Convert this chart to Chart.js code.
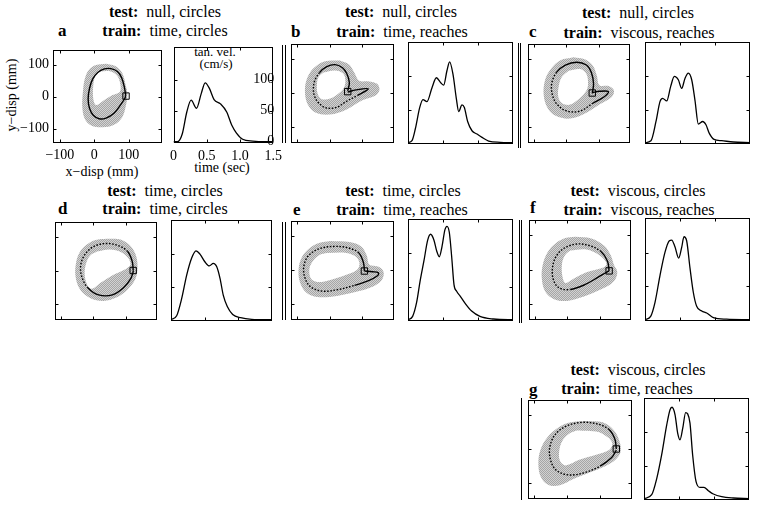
<!DOCTYPE html>
<html>
<head>
<meta charset="utf-8">
<script src="https://cdn.jsdelivr.net/npm/chart.js@4.4.1/dist/chart.umd.min.js"></script>
<style>
  html, body { margin: 0; padding: 0; background: #fff; overflow: hidden; }
  body { position: relative; width: 758px; height: 507px; font-family: "Liberation Serif", "DejaVu Serif", serif; color: #000; }
  canvas { position: absolute; }
  .ttl { position: absolute; width: 300px; text-align: center; font-size: 16px; line-height: 18px; white-space: pre; }
  .tag { position: absolute; font-size: 17px; font-weight: bold; line-height: 18px; }
  .lab { position: absolute; font-size: 14px; line-height: 16px; white-space: nowrap; text-align: center; }
  .sep { position: absolute; width: 1px; background: #000; }
</style>
</head>
<body>

<!-- panel titles -->
<div class="ttl" style="left:15px;top:3px"><b>test:</b>  null, circles</div>
<div class="ttl" style="left:15px;top:22px"><b>train:</b>  time, circles</div>
<div class="ttl" style="left:251px;top:3px"><b>test:</b>  null, circles</div>
<div class="ttl" style="left:252px;top:23px"><b>train:</b>  time, reaches</div>
<div class="ttl" style="left:488px;top:4px"><b>test:</b>  null, circles</div>
<div class="ttl" style="left:489px;top:24px"><b>train:</b>  viscous, reaches</div>
<div class="ttl" style="left:15px;top:182px"><b>test:</b>  time, circles</div>
<div class="ttl" style="left:15px;top:200px"><b>train:</b>  time, circles</div>
<div class="ttl" style="left:253px;top:182px"><b>test:</b>  time, circles</div>
<div class="ttl" style="left:252px;top:201px"><b>train:</b>  time, reaches</div>
<div class="ttl" style="left:488px;top:182px"><b>test:</b>  viscous, circles</div>
<div class="ttl" style="left:489px;top:201px"><b>train:</b>  viscous, reaches</div>
<div class="ttl" style="left:488px;top:361px"><b>test:</b>  viscous, circles</div>
<div class="ttl" style="left:477px;top:380px"><b>train:</b>  time, reaches</div>

<div class="tag" style="left:58px;top:22px">a</div>
<div class="tag" style="left:291px;top:23px">b</div>
<div class="tag" style="left:529px;top:23px">c</div>
<div class="tag" style="left:58px;top:200px">d</div>
<div class="tag" style="left:293px;top:201px">e</div>
<div class="tag" style="left:530px;top:199px">f</div>
<div class="tag" style="left:529px;top:381px">g</div>

<!-- axis titles of panel a -->
<div class="lab" style="left:-33px;top:87px;width:90px;transform:rotate(-90deg)">y−disp (mm)</div>
<div class="lab" style="left:52px;top:164px;width:100px">x−disp (mm)</div>
<div class="lab" style="left:172px;top:160px;width:100px">time (sec)</div>
<div class="lab" style="left:175px;top:45px;width:80px;font-size:13px;line-height:13px">tan. vel.</div>
<div class="lab" style="left:176px;top:57px;width:80px;font-size:13px;line-height:13px">(cm/s)</div>

<!-- separators -->
<div class="sep" style="left:282px;top:45px;height:98px"></div>
<div class="sep" style="left:285px;top:45px;height:98px"></div>
<div class="sep" style="left:518px;top:43px;height:105px"></div>
<div class="sep" style="left:520px;top:43px;height:105px"></div>
<div class="sep" style="left:282px;top:222px;height:98px"></div>
<div class="sep" style="left:285px;top:222px;height:98px"></div>
<div class="sep" style="left:519px;top:220px;height:103px"></div>
<div class="sep" style="left:521px;top:220px;height:103px"></div>
<div class="sep" style="left:521px;top:398px;height:102px"></div>

<script>
/* =========================
   AXES (mm, sec, cm/s)
========================= */

const dispRange = [-120, 195];
const dispYRange = [-145, 145];
const dispTicks = [-100, 0, 100];
const timeRange = [0, 1.5];
const speedRange = [-2, 152];
const timeTicks = [0, 0.5, 1.0, 1.5];
const timeLabels = ["0", "0.5", "1.0", "1.5"];
const speedTicks = [0, 50, 100];

/* =========================
   PANEL a
========================= */

const pathA = [[91,5],[87,31],[79,60],[67,79],[48,88],[29,87],[10,76],[-5,55],[-14,26],[-18,-7],[-14,-36],[-3,-58],[14,-69],[34,-67],[57,-52],[77,-24],[89,-4],[91,5]];
const outerA = [[34,103],[62,95],[81,74],[91,36],[96,7],[91,-31],[81,-64],[57,-88],[24,-96],[-9,-90],[-28,-69],[-35,-31],[-33,17],[-28,55],[-16,84],[5,99],[34,103]];
const innerA = [[14,79],[48,79],[67,65],[76,36],[74,15],[53,5],[24,-14],[5,-26],[-3,-7],[-3,36],[3,65],[14,79]];
const startA = [[92,2]];
const timeA = [0,0.06,0.13,0.2,0.265,0.346,0.418,0.476,0.54,0.61,0.707,0.8,0.875,0.947,1.04,1.19,1.38,1.5];
const speedA = [0,0,12,48,67,54,78,95,86,68,61,48,27,14,4,1,0,0];

/* =========================
   PANEL b
========================= */

const pathB = [[55,6],[60,31],[52,57],[39,74],[16,83],[-9,77],[-31,60],[-46,36],[-50,12],[-46,-11],[-31,-32],[-9,-44],[21,-42],[50,-25],[85,-7],[118,12],[80,9],[55,3]];
const outerB = [[31,95],[60,83],[75,60],[90,36],[120,34],[145,27],[152,9],[140,-7],[100,-21],[50,-49],[1,-63],[-44,-57],[-68,-32],[-76,8],[-68,46],[-48,74],[-14,93],[31,95]];
const innerB = [[-19,60],[16,66],[41,57],[48,36],[43,15],[26,-2],[1,-16],[-24,-18],[-37,-2],[-39,27],[-34,47],[-19,60]];
const startB = [[55,4]];
const timeB = [0,0.057,0.105,0.167,0.214,0.271,0.343,0.405,0.471,0.51,0.557,0.595,0.643,0.69,0.724,0.771,0.805,0.852,0.914,0.986,1.057,1.152,1.319,1.5];
const speedB = [0,3,21,53,65,62,83,98,90,87,109,122,103,67,47,57,53,32,18,13,8,2.5,0.5,0];

/* =========================
   PANEL c
========================= */

const pathC = [[80,-1],[84,27],[77,61],[62,82],[32,90],[-3,82],[-30,61],[-45,29],[-43,-6],[-28,-34],[2,-53],[42,-53],[82,-30],[117,-11],[130,4],[102,5],[80,1]];
const outerC = [[22,105],[57,99],[82,80],[94,51],[102,23],[132,20],[147,7],[140,-12],[102,-34],[62,-58],[12,-75],[-33,-67],[-58,-44],[-70,-6],[-66,37],[-48,70],[-18,96],[22,105]];
const innerC = [[7,65],[42,70],[62,56],[67,27],[62,7],[42,-15],[12,-34],[-13,-30],[-25,-11],[-23,23],[-13,48],[7,65]];
const startC = [[80,0]];
const timeC = [0,0.085,0.157,0.214,0.252,0.31,0.367,0.419,0.476,0.524,0.571,0.619,0.667,0.714,0.762,0.824,0.871,0.919,0.986,1.095,1.262,1.5];
const speedC = [0,3,32,62,67,63,85,100,95,82,97,105,95,64,28,32,27,14,5,3,1,0];

/* =========================
   PANEL d
========================= */

const pathD = [[123,1],[120,27],[106,56],[79,73],[41,80],[1,71],[-27,46],[-39,16],[-36,-18],[-17,-51],[16,-72],[59,-72],[93,-51],[116,-23],[123,-3],[123,1]];
const outerD = [[41,94],[86,91],[116,71],[133,40],[136,2],[129,-27],[106,-56],[71,-80],[31,-90],[-9,-82],[-41,-56],[-55,-18],[-53,25],[-39,59],[-14,81],[11,91],[41,94]];
const innerD = [[11,56],[51,62],[86,54],[109,35],[114,16],[99,4],[61,-13],[21,-37],[-4,-54],[-19,-42],[-27,-8],[-21,25],[-9,45],[11,56]];
const startD = [[123,0]];
const timeD = [0,0.084,0.158,0.233,0.307,0.371,0.43,0.505,0.569,0.629,0.678,0.728,0.777,0.836,0.916,1.034,1.198,1.5];
const speedD = [0,6,32,68,94,105,100,88,82,86,81,63,37,20,8,3,0.6,0];

/* =========================
   PANEL e
========================= */

const pathE = [[106,-3],[103,22],[89,50],[56,65],[12,69],[-33,62],[-66,41],[-79,12],[-77,-19],[-60,-48],[-23,-62],[27,-57],[76,-45],[119,-31],[146,-17],[149,-8],[131,-5],[106,-3]];
const outerE = [[2,85],[61,82],[96,69],[113,43],[121,16],[151,9],[165,-7],[158,-31],[131,-49],[81,-64],[22,-76],[-38,-79],[-72,-66],[-92,-33],[-95,5],[-85,38],[-63,63],[-33,79],[2,85]];
const innerE = [[-8,50],[51,50],[81,38],[91,19],[83,0],[51,-14],[2,-29],[-38,-35],[-58,-24],[-62,5],[-50,28],[-30,45],[-8,50]];
const startE = [[106,-3]];
const timeE = [0,0.066,0.123,0.171,0.228,0.281,0.323,0.371,0.409,0.447,0.485,0.528,0.557,0.59,0.624,0.657,0.695,0.743,0.814,0.909,1.028,1.219,1.433,1.5];
const speedE = [0,5,26,57,89,120,129,120,104,95,110,136,141,132,95,53,43,36,25,13,5,1,0,0];

/* =========================
   PANEL f
========================= */

const pathF = [[129,-4],[124,24],[104,52],[69,69],[29,74],[-11,61],[-36,36],[-46,3],[-43,-30],[-26,-53],[9,-58],[54,-44],[94,-23],[121,-8],[129,-4]];
const outerF = [[24,95],[74,90],[114,69],[134,41],[144,13],[154,-6],[149,-27],[129,-46],[89,-64],[49,-79],[-1,-91],[-41,-86],[-69,-63],[-79,-25],[-76,14],[-61,50],[-36,76],[-6,91],[24,95]];
const innerF = [[9,55],[59,58],[99,41],[121,17],[109,5],[59,-8],[19,-27],[-6,-39],[-16,-16],[-16,20],[-6,43],[9,55]];
const startF = [[129,-4]];
const timeF = [0,0.081,0.143,0.214,0.286,0.348,0.381,0.428,0.481,0.524,0.557,0.595,0.643,0.69,0.738,0.81,0.881,0.976,1.167,1.5];
const speedF = [0,5,26,66,101,118,119,109,92,108,124,118,77,41,20,13,10,3,0.7,0];

/* =========================
   PANEL g
========================= */

const pathG = [[149,0],[145,28],[127,57],[93,73],[44,78],[-5,66],[-38,40],[-53,2],[-49,-36],[-32,-63],[5,-76],[54,-69],[100,-50],[135,-25],[149,-3]];
const outerG = [[59,82],[108,78],[142,54],[159,21],[162,-8],[147,-31],[117,-50],[68,-69],[19,-88],[-25,-107],[-59,-104],[-81,-79],[-87,-36],[-79,2],[-59,35],[-30,61],[10,78],[59,82]];
const innerG = [[29,54],[88,51],[122,35],[137,16],[127,-3],[88,-17],[39,-31],[-5,-48],[-22,-34],[-24,-6],[-15,23],[5,44],[29,54]];
const startG = [[149,0]];
const timeG = [0,0.11,0.181,0.252,0.324,0.371,0.4,0.443,0.481,0.514,0.553,0.595,0.624,0.657,0.695,0.743,0.8,0.857,0.919,0.991,1.11,1.276,1.5];
const speedG = [0,6,30,66,111,134,138,127,99,89,106,130,128,114,66,26,17,17,12,7,3,1,0];

/* =========================
   LAYOUT (page px: left, top, width, height)
========================= */

const panels = [
  { traj: [53, 42, 110, 101], vel: [171, 42, 104, 101], path: pathA, outer: outerA, inner: innerA, start: startA, time: timeA, speed: speedA, dots: null, labelled: true },
  { traj: [289, 42, 106, 102], vel: [408, 42, 105, 102], path: pathB, outer: outerB, inner: innerB, start: startB, time: timeB, speed: speedB, dots: [6, 14] },
  { traj: [526, 42, 105, 102], vel: [645, 42, 105, 102], path: pathC, outer: outerC, inner: innerC, start: startC, time: timeC, speed: speedC, dots: [6, 12] },
  { traj: [53, 220, 105, 101], vel: [171, 220, 101, 101], path: pathD, outer: outerD, inner: innerD, start: startD, time: timeD, speed: speedD, dots: [2, 9] },
  { traj: [289, 219, 106, 102], vel: [408, 219, 105, 102], path: pathE, outer: outerE, inner: innerE, start: startE, time: timeE, speed: speedE, dots: [2, 12] },
  { traj: [527, 218, 105, 103], vel: [645, 218, 105, 103], path: pathF, outer: outerF, inner: innerF, start: startF, time: timeF, speed: speedF, dots: [2, 10] },
  { traj: [526, 398, 107, 102], vel: [644, 398, 105, 102], path: pathG, outer: outerG, inner: innerG, start: startG, time: timeG, speed: speedG, dots: [2, 12] }
];

Chart.defaults.font.family = "'Liberation Serif', 'DejaVu Serif', serif";
Chart.defaults.color = "#000";

const pts = list => list.map(p => ({ x: p[0], y: p[1] }));

function makeCanvas(box, pad) {
  const c = document.createElement("canvas");
  const w = box[2] + pad.left + pad.right;
  const h = box[3] + pad.top + pad.bottom;
  c.width = w;
  c.height = h;
  c.style.width = w + "px";
  c.style.height = h + "px";
  c.style.left = (box[0] - pad.left) + "px";
  c.style.top = (box[1] - pad.top) + "px";
  document.body.appendChild(c);
  return c;
}

// box frame with inward tick marks on all four sides
function framePlugin(xTicks, yTicks) {
  return {
    id: "frame",
    afterDraw(chart) {
      const { ctx, chartArea: a } = chart;
      const xs = chart.scales.x;
      const ys = chart.scales.y;
      const l = Math.round(a.left) + 0.5;
      const r = Math.round(a.right) - 0.5;
      const t = Math.round(a.top) + 0.5;
      const b = Math.round(a.bottom) - 0.5;
      ctx.save();
      ctx.strokeStyle = "#000";
      ctx.lineWidth = 1;
      ctx.strokeRect(l, t, r - l, b - t);
      ctx.beginPath();
      xTicks.forEach(v => {
        const p = Math.round(xs.getPixelForValue(v)) + 0.5;
        if (p <= l + 1 || p >= r - 1) return;
        ctx.moveTo(p, b); ctx.lineTo(p, b - 3);
        ctx.moveTo(p, t); ctx.lineTo(p, t + 3);
      });
      yTicks.forEach(v => {
        const p = Math.round(ys.getPixelForValue(v)) + 0.5;
        if (p <= t + 1 || p >= b - 1) return;
        ctx.moveTo(l, p); ctx.lineTo(l + 3, p);
        ctx.moveTo(r, p); ctx.lineTo(r - 3, p);
      });
      ctx.stroke();
      ctx.restore();
    }
  };
}

function stipple(ctx) {
  const tile = document.createElement("canvas");
  tile.width = 2;
  tile.height = 2;
  const g = tile.getContext("2d");
  g.fillStyle = "#d2d2d2";
  g.fillRect(0, 0, 2, 2);
  g.fillStyle = "#a6a6a6";
  g.fillRect(0, 0, 1, 1);
  g.fillRect(1, 1, 1, 1);
  return ctx.createPattern(tile, "repeat");
}

const baseOptions = padding => ({
  responsive: false,
  animation: false,
  devicePixelRatio: 1,
  events: [],
  layout: { padding },
  plugins: { legend: { display: false }, tooltip: { enabled: false } }
});

const tickFont = { family: "'Liberation Serif', 'DejaVu Serif', serif", size: 14 };

/* =========================
   TRAJECTORY CHART
========================= */

function trajChart(p) {
  const lab = !!p.labelled;
  const pad = lab
    ? { left: 46, top: 4, right: 4, bottom: 24 }
    : { left: 4, top: 4, right: 4, bottom: 4 };
  const canvas = makeCanvas(p.traj, pad);
  const ctx = canvas.getContext("2d");
  const dots = p.dots;

  new Chart(ctx, {
    type: "line",
    data: {
      datasets: [
        { data: pts(p.outer), fill: "shape", backgroundColor: stipple(ctx), borderWidth: 0, borderColor: "rgba(0,0,0,0)", pointRadius: 0, tension: 0.35, order: 3 },
        { data: pts(p.inner), fill: "shape", backgroundColor: "#fff", borderWidth: 0, borderColor: "rgba(0,0,0,0)", pointRadius: 0, tension: 0.35, order: 2 },
        {
          data: pts(p.path), fill: false, borderColor: "#000", borderWidth: 1.4, pointRadius: 0, tension: 0.35, order: 1,
          segment: {
            borderDash: c => (dots && c.p0DataIndex >= dots[0] && c.p0DataIndex < dots[1]) ? [1.6, 1.6] : undefined
          }
        },
        { data: pts(p.start), showLine: false, pointStyle: "rect", pointRadius: 4.5, pointBorderColor: "#000", pointBackgroundColor: "rgba(0,0,0,0)", pointBorderWidth: 1, order: 0 }
      ]
    },
    options: Object.assign(baseOptions(lab ? { left: 0, top: 4, right: 4, bottom: 0 } : pad), {
      scales: {
        x: {
          type: "linear", min: dispRange[0], max: dispRange[1],
          display: lab,
          grid: { display: false, drawTicks: false }, border: { display: false },
          afterBuildTicks: s => { s.ticks = dispTicks.map(v => ({ value: v })); },
          afterFit: s => { if (lab) s.height = 24; },
          ticks: { font: tickFont, padding: 4, maxRotation: 0, callback: v => String(v).replace("-", "−") }
        },
        y: {
          type: "linear", min: dispYRange[0], max: dispYRange[1],
          display: lab,
          grid: { display: false, drawTicks: false }, border: { display: false },
          afterBuildTicks: s => { s.ticks = dispTicks.map(v => ({ value: v })); },
          afterFit: s => { if (lab) s.width = 46; },
          ticks: { font: tickFont, padding: 4, callback: v => String(v).replace("-", "−") }
        }
      }
    }),
    plugins: [framePlugin(dispTicks, dispTicks)]
  });
}

/* =========================
   VELOCITY CHART
========================= */

function velChart(p) {
  const lab = !!p.labelled;
  const pad = lab
    ? { left: 6, top: 4, right: 12, bottom: 24 }
    : { left: 4, top: 4, right: 4, bottom: 4 };
  const canvas = makeCanvas(p.vel, pad);
  const ctx = canvas.getContext("2d");

  new Chart(ctx, {
    type: "line",
    data: {
      datasets: [{
        data: p.time.map((t, i) => ({ x: t, y: p.speed[i] })),
        fill: false, borderColor: "#000", borderWidth: 1.3, pointRadius: 0,
        cubicInterpolationMode: "monotone"
      }]
    },
    options: Object.assign(baseOptions(lab ? { left: 6, top: 4, right: 12, bottom: 0 } : pad), {
      scales: {
        x: {
          type: "linear", min: timeRange[0], max: timeRange[1],
          display: lab,
          grid: { display: false, drawTicks: false }, border: { display: false },
          afterBuildTicks: s => { s.ticks = timeTicks.map(v => ({ value: v })); },
          afterFit: s => { if (lab) s.height = 24; },
          ticks: { font: tickFont, padding: 5, maxRotation: 0, callback: (v, i) => timeLabels[i] }
        },
        y: {
          type: "linear", position: "right", min: speedRange[0], max: speedRange[1],
          display: lab,
          grid: { display: false, drawTicks: false }, border: { display: false },
          afterBuildTicks: s => { s.ticks = speedTicks.map(v => ({ value: v })); },
          afterFit: s => { if (lab) s.width = 0; },
          ticks: { font: tickFont, mirror: true, padding: 1 }
        }
      }
    }),
    plugins: [framePlugin(timeTicks, speedTicks)]
  });
}

panels.forEach(p => {
  trajChart(p);
  velChart(p);
});
</script>
</body>
</html>
